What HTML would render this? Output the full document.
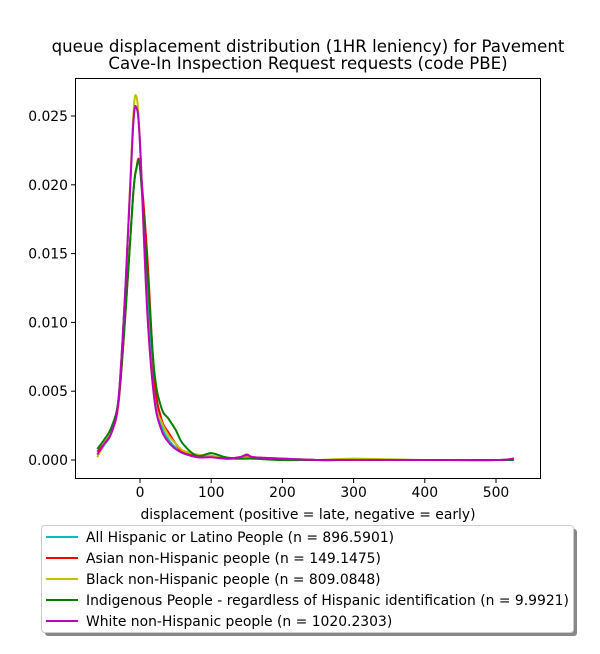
<!DOCTYPE html>
<html><head><meta charset="utf-8"><style>
body{margin:0;background:#fff;font-family:"DejaVu Sans","Liberation Sans",sans-serif}
svg text{font-family:"DejaVu Sans","Liberation Sans",sans-serif}
</style></head><body>
<svg id="c" width="600" height="650" xmlns="http://www.w3.org/2000/svg"></svg>
<script>
const xs=[-60,-50,-40,-30,-20,-10,-5,0,10,20,30,40,50,60,80,100,120,140,150,160,200,250,300,400,500,525];
const seriesNames=["All Hispanic or Latino People (n = 896.5901)","Asian non-Hispanic people (n = 149.1475)","Black non-Hispanic people (n = 809.0848)","Indigenous People - regardless of Hispanic identification (n = 9.9921)","White non-Hispanic people (n = 1020.2303)"];
const colors=["#00bfbf","#ff0000","#bfbf00","#008000","#bf00bf"];
const cyanVals=[0.0004,0.0011,0.002,0.0045,0.013,0.024,0.0256,0.023,0.012,0.005,0.0025,0.0015,0.0009,0.0005,0.0003,0.0003,0.0001,0.0001,0.0002,0.0001,0.0001,0,0,0,0,0.0001];
const redVals=[0.0006,0.0012,0.002,0.0042,0.011,0.019,0.0212,0.0214,0.015,0.006,0.003,0.002,0.0012,0.0006,0.0003,0.0003,0.0001,0.0002,0.0003,0.0002,0.0001,0,0,0,0,0.0001];
const yellowVals=[0.0002,0.0012,0.0022,0.0045,0.013,0.0245,0.0264,0.023,0.011,0.0045,0.0028,0.0018,0.0012,0.0007,0.0004,0.0003,0.0001,0.0001,0.0002,0.0001,0.0001,0,0.0001,0,0,0];
const greenVals=[0.0008,0.0015,0.0024,0.0045,0.011,0.019,0.0212,0.0212,0.014,0.0065,0.0038,0.003,0.0022,0.0012,0.0003,0.0005,0.0002,0.0001,0.0001,0.0001,0,0,0,0,0,0];
const magentaVals=[0.0004,0.0012,0.002,0.0045,0.013,0.024,0.0256,0.023,0.011,0.0045,0.0022,0.0013,0.0008,0.0005,0.0002,0.0002,0.0001,0.0002,0.0004,0.0002,0.0001,0,0,0,0,0.0001];
const allVals=[cyanVals,redVals,yellowVals,greenVals,magentaVals];
const xTicks=[0,100,200,300,400,500];
const yTicks=[0,0.005,0.01,0.015,0.02,0.025];
const yTickLabels=["0.000","0.005","0.010","0.015","0.020","0.025"];
const NS="http://www.w3.org/2000/svg",svg=document.getElementById('c');
const X=v=>140+v*0.712, Y=v=>460-v/0.005*68.8;
function mk(t,a,p){const e=document.createElementNS(NS,t);for(const k in a)e.setAttribute(k,a[k]);(p||svg).appendChild(e);return e;}
function txt(s,a){const e=mk('text',a);e.textContent=s;return e;}
let t=txt("queue displacement distribution (1HR leniency) for Pavement",{x:308,y:52,'font-size':16.6,'text-anchor':'middle'});

t=txt("Cave-In Inspection Request  requests (code PBE)",{x:308,y:69,'font-size':16.6,'text-anchor':'middle'});

const g=mk('g',{});
allVals.forEach((vals,si)=>{
  const p=xs.map((x,i)=>[X(x),Y(vals[i])]);
  let d=`M${p[0][0]},${p[0][1]}`;
  for(let i=0;i<p.length-1;i++){const p0=p[Math.max(0,i-1)],p1=p[i],p2=p[i+1],p3=p[Math.min(p.length-1,i+2)];
    const c1=[p1[0]+(p2[0]-p0[0])/6,p1[1]+(p2[1]-p0[1])/6],c2=[p2[0]-(p3[0]-p1[0])/6,p2[1]-(p3[1]-p1[1])/6];
    d+=` C${c1[0]},${c1[1]} ${c2[0]},${c2[1]} ${p2[0]},${p2[1]}`;}
  const l=mk('path',{d,fill:'none',stroke:colors[si],'stroke-width':2},g);
  
  
});
const fr=mk('rect',{x:75.5,y:78.5,width:465,height:400,fill:'none',stroke:'#000','stroke-width':1});

xTicks.forEach(v=>{mk('line',{x1:X(v),x2:X(v),y1:479,y2:483,stroke:'#000'});
  const e=txt(String(v),{x:X(v),y:497,'font-size':13.9,'text-anchor':'middle'});
  });
yTicks.forEach((v,i)=>{mk('line',{x1:71,x2:75,y1:Y(v),y2:Y(v),stroke:'#000'});
  const e=txt(yTickLabels[i],{x:68,y:Y(v)+5,'font-size':13.9,'text-anchor':'end'});
  });
t=txt("displacement (positive = late, negative = early)",{x:308,y:519,'font-size':13.9,'text-anchor':'middle'});

mk('rect',{x:45,y:529,width:532,height:107,fill:'#888',rx:3});
const lg=mk('rect',{x:41.5,y:525.5,width:532,height:107,fill:'#fff',stroke:'#ccc',rx:3});

seriesNames.forEach((n,i)=>{const y=537+i*21;
  mk('line',{x1:46,x2:78,y1:y,y2:y,stroke:colors[i],'stroke-width':2});
  const e=txt(n,{x:86,y:y+5,'font-size':13.9});
  });
</script>
</body></html>
